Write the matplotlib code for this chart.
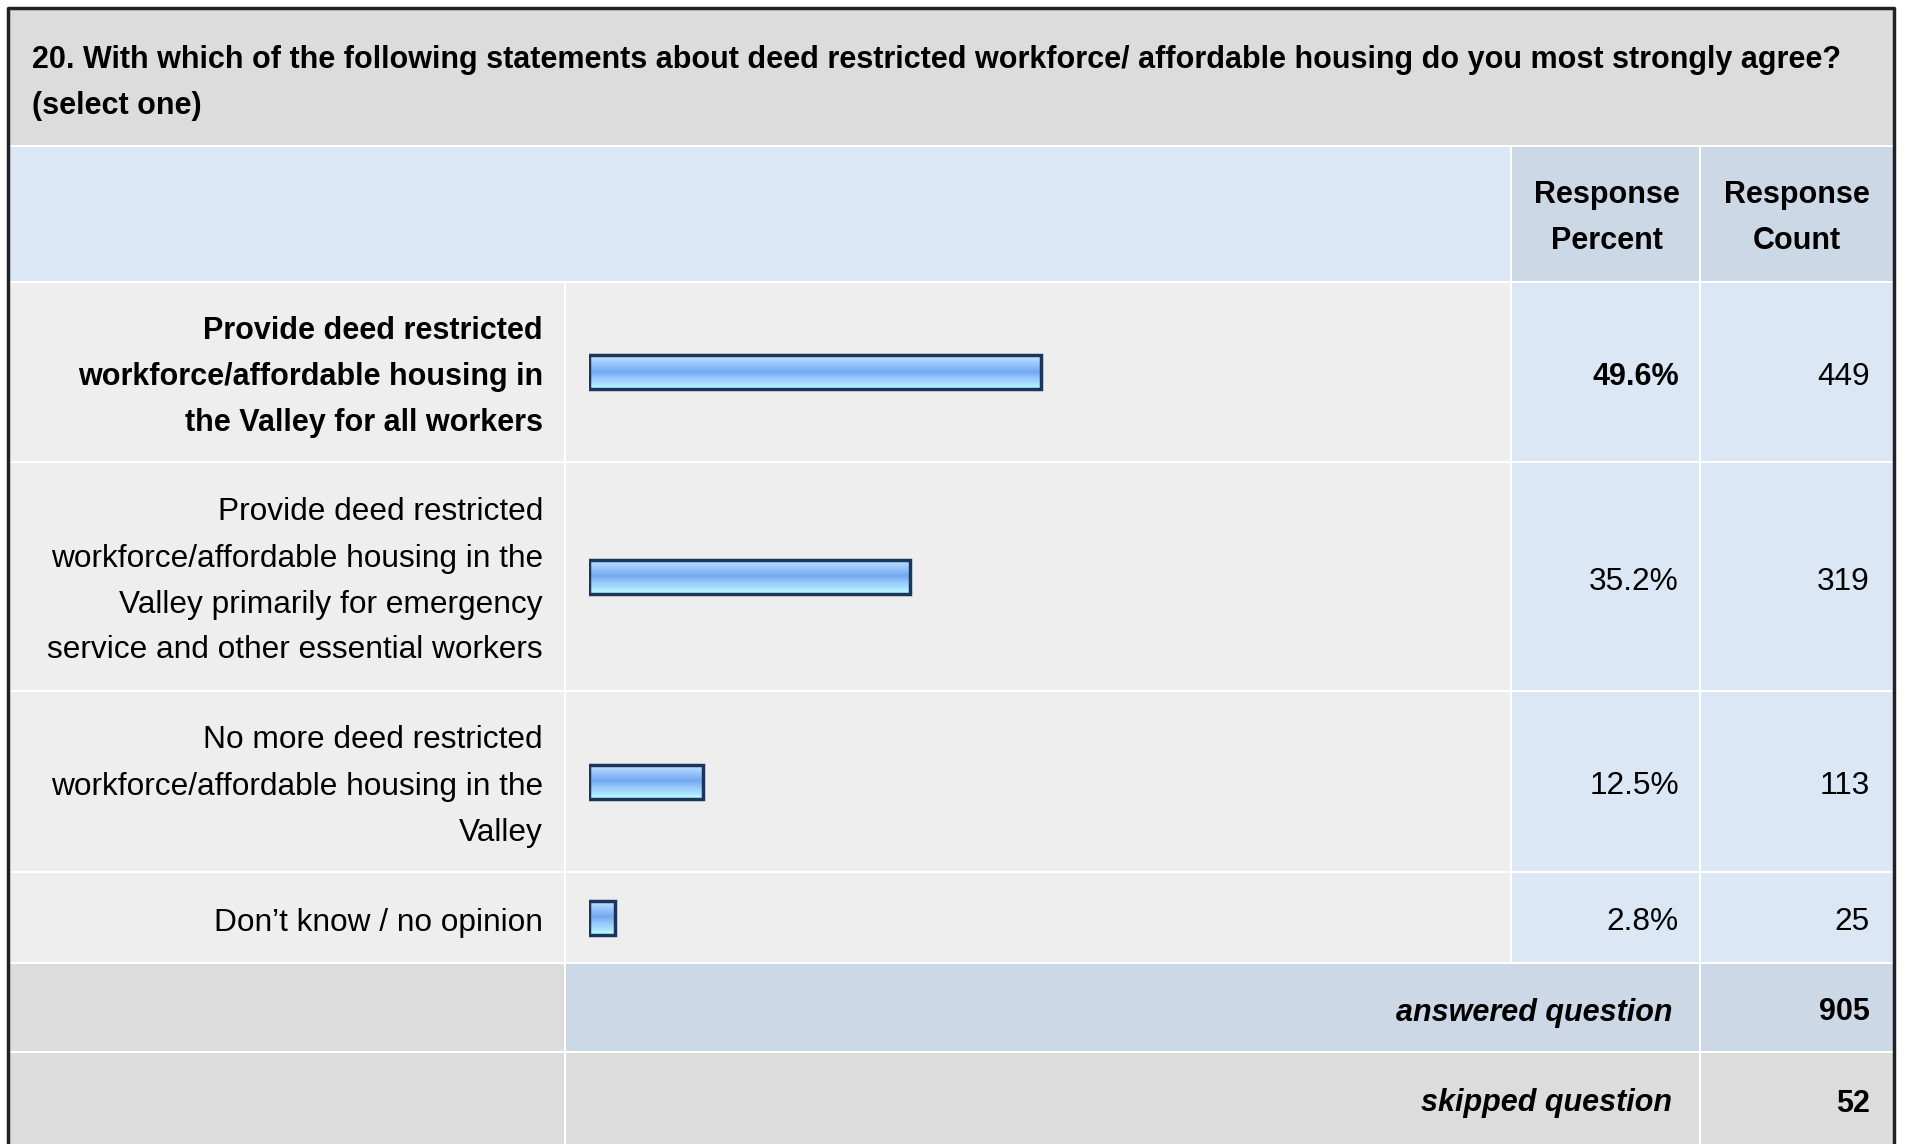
import matplotlib.pyplot as plt
from matplotlib.patches import Rectangle
import numpy as np

plt.rcParams['font.family'] = ['Liberation Sans', 'DejaVu Sans']

# Survey data
question = ("20. With which of the following statements about deed restricted workforce/ "
            "affordable housing do you most strongly agree?\n(select one)")
answers = [
    "Provide deed restricted\nworkforce/affordable housing in\nthe Valley for all workers",
    "Provide deed restricted\nworkforce/affordable housing in the\nValley primarily for emergency\nservice and other essential workers",
    "No more deed restricted\nworkforce/affordable housing in the\nValley",
    "Don\u2019t know / no opinion",
]
percents = [49.6, 35.2, 12.5, 2.8]
counts = [449, 319, 113, 25]
answered = 905
skipped = 52

W, H = 1907, 1144
fig = plt.figure(figsize=(W / 100, H / 100), dpi=100)
ax = fig.add_axes([0, 0, 1, 1])
ax.set_xlim(0, W)
ax.set_ylim(H, 0)
ax.axis('off')

gray = '#dcdcdc'
light = '#eeeeee'
blue = '#dce7f5'
blue2 = '#ccd8e6'

# column edges (pixels)
c0, c1, c2, c3, c4 = 10, 566, 1512, 1701, 1893
# row edges
title_top, title_bot = 10, 147
head_bot = 283
row_edges = [283, 463, 692, 873, 964]
ans_bot = 1053
skip_bot = 1146
gap = 2


def cell(x0, x1, y0, y1, color):
    ax.add_patch(Rectangle((x0, y0), x1 - x0 - gap, y1 - y0 - gap, facecolor=color,
                           edgecolor='none', zorder=1))


ax.add_patch(Rectangle((0, 0), W, H, facecolor='white', zorder=0))
cell(c0, c4 + gap, title_top, title_bot, gray)
cell(c0, c2, title_bot, head_bot, blue)
cell(c2, c3, title_bot, head_bot, blue2)
cell(c3, c4 + gap, title_bot, head_bot, blue2)
for i in range(len(answers)):
    y0, y1 = row_edges[i], row_edges[i + 1]
    cell(c0, c1, y0, y1, light)
    cell(c1, c2, y0, y1, light)
    cell(c2, c3, y0, y1, blue)
    cell(c3, c4 + gap, y0, y1, blue)
cell(c0, c1, row_edges[-1], ans_bot, gray)
cell(c1, c3, row_edges[-1], ans_bot, blue2)
cell(c3, c4 + gap, row_edges[-1], ans_bot, blue2)
cell(c0, c1, ans_bot, skip_bot, gray)
cell(c1, c3, ans_bot, skip_bot, gray)
cell(c3, c4 + gap, ans_bot, skip_bot, gray)

# outer frame
ax.plot([8, 8, 1894, 1894], [H, 8, 8, H], color='#222222', lw=2.5, zorder=5,
        solid_capstyle='butt')

fs_t = 22
fs = 22.8
dy = 5
# title
for k, line in enumerate(question.split('\n')):
    ax.text(32, 60 + 46 * k, line, fontsize=fs_t, fontweight='bold', va='center', ha='left', zorder=3)

# header
for k, line in enumerate(["Response", "Percent"]):
    ax.text((c2 + c3) / 2, 195 + 46 * k, line, fontsize=fs_t, fontweight='bold', ha='center', va='center', zorder=3)
for k, line in enumerate(["Response", "Count"]):
    ax.text((c3 + c4) / 2, 195 + 46 * k, line, fontsize=fs_t, fontweight='bold', ha='center', va='center', zorder=3)

top = int(np.argmax(percents))
centers = []
for i, lab in enumerate(answers):
    yc = (row_edges[i] + row_edges[i + 1] - gap) / 2
    centers.append(yc)
    lines = lab.split('\n')
    w = 'bold' if i == top else 'normal'
    f = fs_t if i == top else fs
    for k, line in enumerate(lines):
        ax.text(543, yc + dy + (k - (len(lines) - 1) / 2) * 46, line, fontsize=f, fontweight=w,
                ha='right', va='center', zorder=3)
    ax.text(1679, yc + dy, f"{percents[i]:.1f}%", fontsize=f, fontweight=w, ha='right', va='center', zorder=3)
    ax.text(1870, yc + dy, f"{counts[i]}", fontsize=fs, ha='right', va='center', zorder=3)

ya = (row_edges[-1] + ans_bot - gap) / 2
ys = (ans_bot + H) / 2
ax.text(1672, ya + dy, "answered question", fontsize=fs_t, fontweight='bold', style='italic', ha='right', va='center', zorder=3)
ax.text(1870, ya + dy, f"{answered}", fontsize=fs_t, fontweight='bold', ha='right', va='center', zorder=3)
ax.text(1672, ys + dy, "skipped question", fontsize=fs_t, fontweight='bold', style='italic', ha='right', va='center', zorder=3)
ax.text(1870, ys + dy, f"{skipped}", fontsize=fs_t, fontweight='bold', ha='right', va='center', zorder=3)

# bars: separate axes in percent units, y in pixels
bx0, bx1 = 589, 1501
bax = fig.add_axes([bx0 / W, 0, (bx1 - bx0) / W, 1])
bax.set_xlim(0, 100)
bax.set_ylim(H, 0)
bax.axis('off')
bax.patch.set_alpha(0)

stops = np.array([
    [0.82, 0.91, 1.00],
    [0.66, 0.82, 1.00],
    [0.55, 0.74, 0.97],
    [0.45, 0.66, 0.94],
    [0.58, 0.78, 0.99],
    [0.66, 0.86, 1.00],
    [0.72, 1.00, 1.00],
])
pos = np.linspace(0, len(stops) - 1, 60)
grad_img = np.stack([np.interp(pos, np.arange(len(stops)), stops[:, c]) for c in range(3)], axis=1)[:, None, :]

bh = 34
bars = bax.barh(centers, percents, height=bh, left=0, facecolor='none', edgecolor='#1c355a', lw=2.5, zorder=4)
for yc, p in zip(centers, percents):
    bax.imshow(grad_img, extent=(0, p, yc + bh / 2, yc - bh / 2), aspect='auto', zorder=3,
               interpolation='bilinear')
bax.set_xlim(0, 100)
bax.set_ylim(H, 0)

fig.savefig('out.png', dpi=100)
